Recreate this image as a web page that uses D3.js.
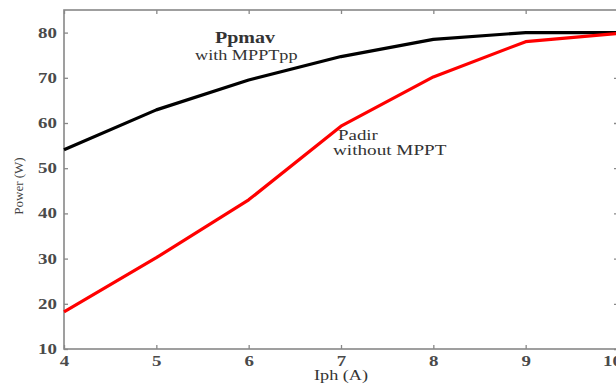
<!DOCTYPE html>
<html><head><meta charset="utf-8">
<script src="https://cdn.jsdelivr.net/npm/d3@7"></script>
<style>body{margin:0;background:#fff}svg{display:block}</style>
</head><body><svg id="c" width="616" height="385"></svg>
<script>
const currents = [4, 5, 6, 7, 8, 9, 10];
const ppmav = [54.1, 62.9, 69.5, 74.7, 78.5, 80, 80];
const padir = [18.2, 30.2, 43, 59.3, 70.2, 78, 79.8];
const xTicks = [4, 5, 6, 7, 8, 9, 10];
const yTicks = [10, 20, 30, 40, 50, 60, 70, 80];

const svg = d3.select("#c");
const L = 64, R = 618, T = 10, B = 349;
const SX = 1.35;
const x = d3.scaleLinear().domain([4, 10]).range([L, R]);
const y = d3.scaleLinear().domain([10, 85]).range([B, T]);
const axisCol = "#888";
const font = "Liberation Serif, Times New Roman, serif";

svg.append("rect").attr("x", L).attr("y", T).attr("width", R - L).attr("height", B - T)
  .attr("fill", "none").attr("stroke", axisCol).attr("stroke-width", 1.6);

const gx = svg.append("g").attr("transform", `translate(0,${B})`)
  .call(d3.axisBottom(x).tickValues(xTicks).tickSize(-4).tickPadding(7).tickFormat(d3.format("d")));
const gxt = svg.append("g").attr("transform", `translate(0,${T})`)
  .call(d3.axisTop(x).tickValues(xTicks).tickSize(-4).tickFormat(""));
const gy = svg.append("g").attr("transform", `translate(${L},0)`)
  .call(d3.axisLeft(y).tickValues(yTicks).tickSize(-4).tickPadding(7));
const gyr = svg.append("g").attr("transform", `translate(${R},0)`)
  .call(d3.axisRight(y).tickValues(yTicks).tickSize(-4).tickFormat(""));
[gx, gxt, gy, gyr].forEach(g => {
  g.select(".domain").remove();
  g.selectAll("line").attr("stroke", axisCol).attr("stroke-width", 1.3);
  g.selectAll("text").attr("fill", "#4a4a4a").attr("font-family", font)
    .attr("font-size", 14).attr("font-weight", "bold");
});
gy.selectAll("text").attr("x", -7 / SX).attr("transform", `scale(${SX},1)`);
gx.selectAll("text").attr("transform", `scale(${SX},1)`)
  .attr("x", d => d === 10 ? -6 / SX : 0);

const line = d3.line().x((d, i) => x(currents[i])).y(d => y(d));
svg.append("path").datum(ppmav).attr("d", line).attr("fill", "none")
  .attr("stroke", "#000").attr("stroke-width", 3.2).attr("stroke-linejoin", "round");
svg.append("path").datum(padir).attr("d", line).attr("fill", "none")
  .attr("stroke", "#ff0000").attr("stroke-width", 3.2).attr("stroke-linejoin", "round");

const txt = (s, xx, yy, size, weight, anchor, sx) => svg.append("g")
  .attr("transform", `translate(${xx},${yy}) scale(${sx || SX},1)`)
  .append("text").attr("font-family", font).attr("font-size", size)
  .attr("font-weight", weight || "normal").attr("fill", "#333")
  .attr("text-anchor", anchor || "start").text(s);

txt("Ppmav", 215, 43, 16, "bold", "start", 1.25);
txt("with MPPTpp", 195, 60, 14, "normal", "start", 1.3);
txt("Padir", 338, 140, 14, "normal", "start", 1.35);
txt("without MPPT", 333, 155, 14, "normal", "start", 1.37);
txt("Iph (A)", 341, 380, 14, "normal", "middle", 1.3);
svg.append("text").attr("transform", `translate(23,186) rotate(-90)`)
  .attr("text-anchor", "middle").attr("font-family", font).attr("font-size", 13)
  .attr("fill", "#444").text("Power (W)");
</script></body></html>
